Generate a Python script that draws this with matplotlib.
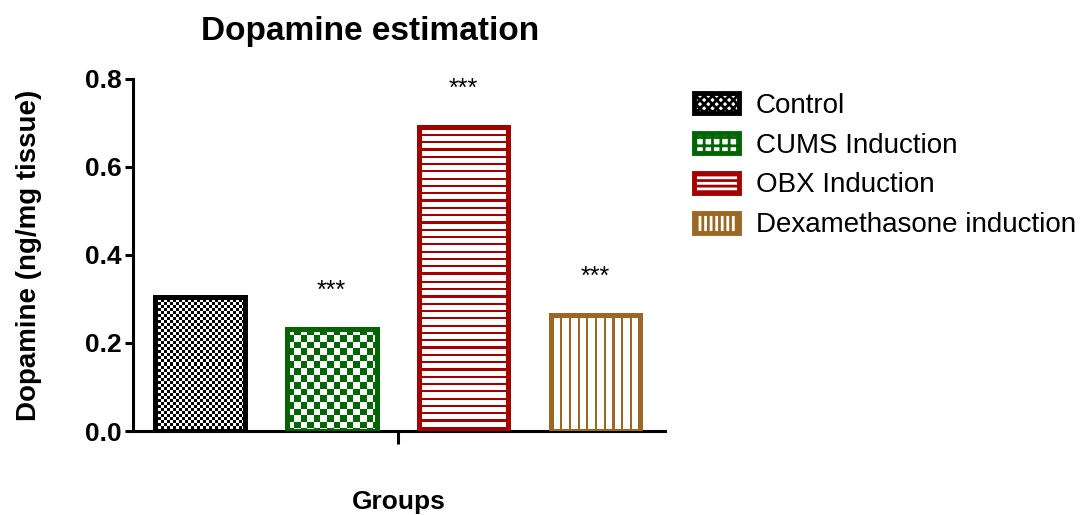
import matplotlib

matplotlib.use("Agg")
import matplotlib.pyplot as plt
import numpy as np
from matplotlib.colors import ListedColormap
from matplotlib.patches import Patch

plt.rcParams["font.family"] = ["Liberation Sans", "DejaVu Sans"]

groups = ["Control", "CUMS Induction", "OBX Induction", "Dexamethasone induction"]
dopamine = [0.305, 0.232, 0.691, 0.264]
stars = ["", "***", "***", "***"]
colors = ["#000000", "#006400", "#a30000", "#9c6624"]
legend_hatches = ["xxxx", "++", "---", "|||"]


def pattern(kind, h, w):
    i, j = np.mgrid[0:h, 0:w]
    if kind == "fine_check":
        return ((i // 3 + j // 3) % 2).astype(float)
    if kind == "check":
        return ((np.floor(i / 6.6) + np.floor(j / 6.6)) % 2).astype(float)
    if kind == "hlines":
        return ((i % 7.3) < 2.2).astype(float)
    return ((j % 8.7) < 2.2).astype(float)


kinds = ["fine_check", "check", "hlines", "vlines"]

fig = plt.figure(figsize=(10.8, 5.15), dpi=100)
ax = fig.add_axes([0.123, 0.163, 0.493, 0.684])
x = np.arange(len(groups))
ax.set_xlim(-0.508, 3.53)
ax.set_ylim(0, 0.8)

bars = ax.bar(x, dopamine, width=0.68, facecolor="none", edgecolor=colors,
              linewidth=3.6, zorder=3)

for bar, kind, color in zip(bars, kinds, colors):
    ext = bar.get_window_extent()
    w, h = int(round(ext.width)), int(round(ext.height))
    img = ax.imshow(pattern(kind, h, w), cmap=ListedColormap(["white", color]),
                    vmin=0, vmax=1, interpolation="nearest", aspect="auto",
                    extent=[bar.get_x(), bar.get_x() + bar.get_width(), 0, bar.get_height()],
                    zorder=2)
    img.set_clip_path(bar)

ax.set_xlim(-0.508, 3.53)
ax.set_ylim(0, 0.8)

for xi, v, s in zip(x, dopamine, stars):
    if s:
        ax.text(xi, v + 0.087, s, ha="center", va="center", fontsize=18)

for side in ["top", "right"]:
    ax.spines[side].set_visible(False)
ax.spines["left"].set_linewidth(2.2)
ax.spines["bottom"].set_linewidth(2.2)
ax.set_yticks([0.0, 0.2, 0.4, 0.6, 0.8], ["0.0", "0.2", "0.4", "0.6", "0.8"])
ax.tick_params(axis="y", width=2.2, length=6, labelsize=19, pad=2)
for lab in ax.get_yticklabels():
    lab.set_fontweight("bold")
ax.set_xticks([1.5], [""])
ax.tick_params(axis="x", width=2.2, length=9)

ax.set_ylabel("Dopamine (ng/mg tissue)", fontsize=20, fontweight="bold", labelpad=31)
ax.set_xlabel("Groups", fontsize=19, fontweight="bold", labelpad=30)
ax.set_title("Dopamine estimation", fontsize=24, fontweight="bold", pad=28, x=0.445)

plt.rcParams["hatch.linewidth"] = 2.0
handles = [Patch(facecolor="white", edgecolor=c, hatch=hch, linewidth=3.5)
           for c, hch in zip(colors, legend_hatches)]
fig.legend(handles, groups, loc="upper left", bbox_to_anchor=(0.643, 0.82),
           frameon=False, fontsize=20, handlelength=1.6, handleheight=0.72,
           handletextpad=0.6, labelspacing=0.5, borderpad=0, borderaxespad=0)

fig.savefig("out.png", dpi=100)
plt.close(fig)
